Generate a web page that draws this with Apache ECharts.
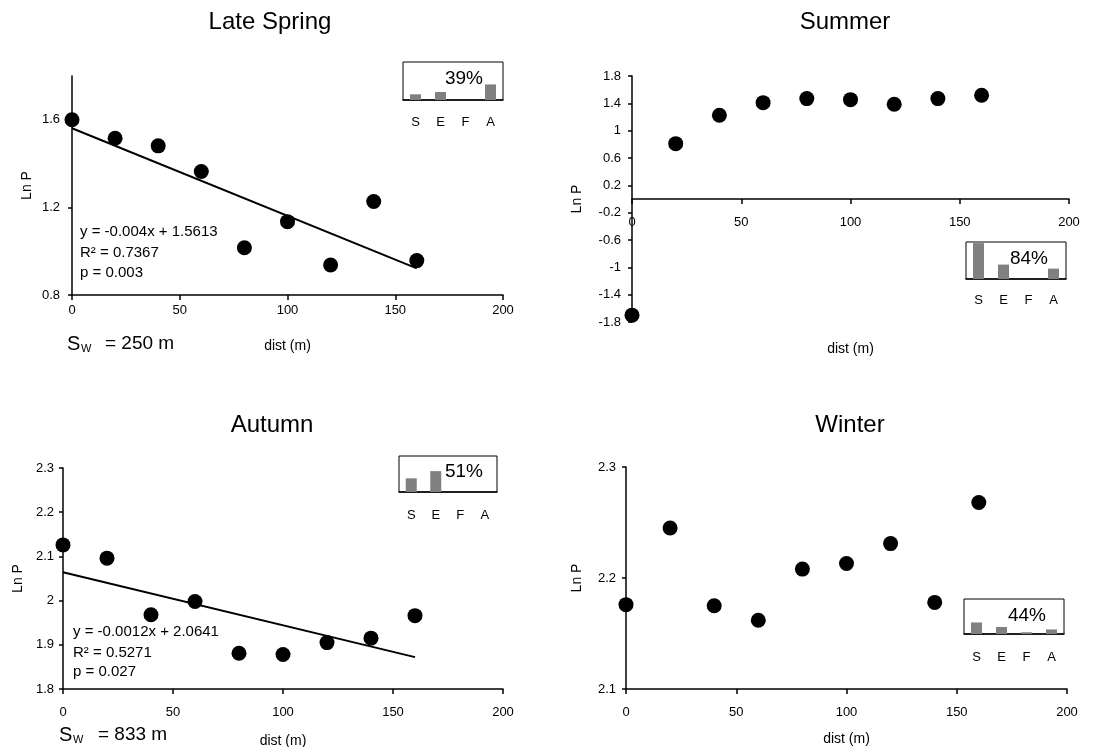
<!DOCTYPE html>
<html>
<head>
<meta charset="utf-8">
<script src="https://cdn.jsdelivr.net/npm/echarts@6/dist/echarts.min.js"></script>
<style>
  html, body { margin: 0; background: #fff; }
  #chart { width: 1098px; height: 747px; }
</style>
</head>
<body>
<div id="chart"></div>
<script>
const dist = [0, 20, 40, 60, 80, 100, 120, 140, 160]
const springLnP = [1.6, 1.516, 1.481, 1.364, 1.016, 1.135, 0.937, 1.227, 0.957]
const summerLnP = [-1.7, 0.81, 1.225, 1.41, 1.469, 1.454, 1.386, 1.469, 1.518]
const autumnLnP = [2.126, 2.096, 1.968, 1.998, 1.881, 1.878, 1.905, 1.915, 1.966]
const winterLnP = [2.176, 2.245, 2.175, 2.162, 2.208, 2.213, 2.231, 2.178, 2.268]

// fitted lines: value at dist 0 and at dist 160
const trendDist = [0, 160]
const springTrend = [1.5613, 0.9213]
const autumnTrend = [2.0641, 1.8721]

// inset bars (share of inset height)
const seasons = ['S', 'E', 'F', 'A']
const springShare = [15, 21, 0, 41]
const summerShare = [97, 39, 0, 28]
const autumnShare = [38, 58, 0, 0]
const winterShare = [33, 20, 5, 13]

const distTicks = [0, 50, 100, 150, 200]
const springTicks = [0.8, 1.2, 1.6]
const summerTicks = [-1.8, -1.4, -1, -0.6, -0.2, 0.2, 0.6, 1, 1.4, 1.8]
const autumnTicks = [1.8, 1.9, 2, 2.1, 2.2, 2.3]
const winterTicks = [2.1, 2.2, 2.3]

const FONT = 'Liberation Sans, Arial, sans-serif'
const black = '#000'

const chart = echarts.init(document.getElementById('chart'))

const grid = [
  { left: 72, top: 76, width: 431, height: 219 },
  { left: 632, top: 76, width: 437, height: 246 },
  { left: 63, top: 468, width: 440, height: 221 },
  { left: 626, top: 467, width: 441, height: 222 },
  // insets
  { left: 403, top: 62, width: 100, height: 38, show: true },
  { left: 966, top: 242, width: 100, height: 37, show: true },
  { left: 399, top: 456, width: 98, height: 36, show: true },
  { left: 964, top: 599, width: 100, height: 35, show: true }
].map(g => Object.assign({ outerBoundsMode: 'none', containLabel: false, borderColor: black, borderWidth: 1, backgroundColor: 'transparent' }, g))

function distAxis (gridIndex, labelMargin, nameGap) {
  return {
    type: 'value', gridIndex, min: 0, max: 200,
    name: 'dist (m)', nameLocation: 'middle', nameGap,
    nameTextStyle: { fontFamily: FONT, fontSize: 14, color: black },
    axisLine: { lineStyle: { color: black, width: 1.5 } },
    axisTick: { length: 5, customValues: distTicks, lineStyle: { color: black, width: 1.5 } },
    axisLabel: { customValues: distTicks, margin: labelMargin, fontFamily: FONT, fontSize: 13, color: black },
    splitLine: { show: false }
  }
}

function lnpAxis (gridIndex, min, max, ticks, nameGap, labelMargin) {
  return {
    type: 'value', gridIndex, min, max,
    name: 'Ln P', nameLocation: 'middle', nameGap,
    nameTextStyle: { fontFamily: FONT, fontSize: 14, color: black },
    axisLine: { show: true, lineStyle: { color: black, width: 1.5 } },
    axisTick: { show: true, length: 4, customValues: ticks, lineStyle: { color: black, width: 1.5 } },
    axisLabel: { customValues: ticks, margin: labelMargin, fontFamily: FONT, fontSize: 13, color: black },
    splitLine: { show: false }
  }
}

function seasonAxis (gridIndex, labelMargin) {
  return {
    type: 'category', gridIndex, data: seasons,
    axisLine: { lineStyle: { color: black, width: 1.5 } },
    axisTick: { length: 4, lineStyle: { color: black, width: 1.5 } },
    axisLabel: { margin: labelMargin, fontFamily: FONT, fontSize: 13, color: black }
  }
}

function shareAxis (gridIndex) {
  return { type: 'value', gridIndex, min: 0, max: 100, show: false, splitLine: { show: false } }
}

function dots (i, values) {
  return {
    type: 'scatter', xAxisIndex: i, yAxisIndex: i,
    data: dist.map((d, k) => [d, values[k]]),
    symbolSize: 15, itemStyle: { color: black, opacity: 1 }, z: 3
  }
}

function trend (i, values) {
  return {
    type: 'line', xAxisIndex: i, yAxisIndex: i,
    data: trendDist.map((d, k) => [d, values[k]]),
    symbol: 'none', lineStyle: { color: black, width: 2 }, z: 2
  }
}

function bars (i, values) {
  return {
    type: 'bar', xAxisIndex: i, yAxisIndex: i, data: values,
    barWidth: 11, itemStyle: { color: '#808080' }
  }
}

function text (x, y, str, size, align) {
  return {
    type: 'text', x, y,
    style: { text: str, font: size + 'px ' + FONT, fill: black, textAlign: align || 'left', textVerticalAlign: 'middle' }
  }
}

const option = {
  animation: false,
  backgroundColor: '#fff',
  grid,
  xAxis: [
    distAxis(0, 9, 44),
    distAxis(1, -106, 20),
    distAxis(2, 17, 45),
    distAxis(3, 17, 43),
    seasonAxis(4, 16),
    seasonAxis(5, 15),
    seasonAxis(6, 17),
    seasonAxis(7, 17)
  ],
  yAxis: [
    lnpAxis(0, 0.8, 1.8, springTicks, 38, 12),
    lnpAxis(1, -1.8, 1.8, summerTicks, 48, 11),
    lnpAxis(2, 1.8, 2.3, autumnTicks, 38, 9),
    lnpAxis(3, 2.1, 2.3, winterTicks, 42, 10),
    shareAxis(4), shareAxis(5), shareAxis(6), shareAxis(7)
  ],
  series: [
    trend(0, springTrend),
    dots(0, springLnP),
    dots(1, summerLnP),
    trend(2, autumnTrend),
    dots(2, autumnLnP),
    dots(3, winterLnP),
    bars(4, springShare),
    bars(5, summerShare),
    bars(6, autumnShare),
    bars(7, winterShare)
  ],
  graphic: [
    text(270, 22, 'Late Spring', 24, 'center'),
    text(845, 22, 'Summer', 24, 'center'),
    text(272, 425, 'Autumn', 24, 'center'),
    text(850, 425, 'Winter', 24, 'center'),

    text(464, 79, '39%', 19, 'center'),
    text(1029, 259, '84%', 19, 'center'),
    text(464, 472, '51%', 19, 'center'),
    text(1027, 616, '44%', 19, 'center'),

    text(80, 232, 'y = -0.004x + 1.5613', 15),
    text(80, 253, 'R² = 0.7367', 15),
    text(80, 273, 'p = 0.003', 15),
    text(73, 632, 'y = -0.0012x + 2.0641', 15),
    text(73, 653, 'R² = 0.5271', 15),
    text(73, 672, 'p = 0.027', 15),

    text(67, 344, 'S', 20),
    text(81, 349, 'W', 11),
    text(105, 344, '= 250 m', 19),
    text(59, 735, 'S', 20),
    text(73, 740, 'W', 11),
    text(98, 735, '= 833 m', 19)
  ]
}

chart.setOption(option)
</script>
</body>
</html>
